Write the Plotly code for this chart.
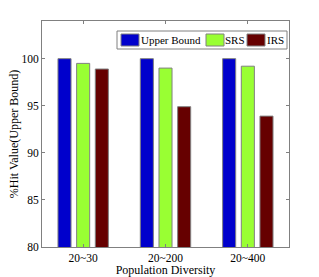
import plotly.graph_objects as go

categories = ["20~30", "20~200", "20~400"]
upper_bound = [100, 100, 100]
srs = [99.5, 99.0, 99.2]
irs = [98.9, 94.9, 93.9]
y_ticks = [80, 85, 90, 95, 100]
series_names = ["Upper Bound", "SRS", "IRS"]
series_colors = ["#0000CC", "#99FF33", "#660000"]

font = "Liberation Serif"
L, R, T, B, W, H = 42, 30, 21, 30, 319, 277
pw, ph = W - L - R, H - T - B

def px(x):
    return (x - L) / pw

def py(y):
    return (H - B - y) / ph

fig = go.Figure()
for name, vals, col in zip(series_names, [upper_bound, srs, irs], series_colors):
    fig.add_trace(go.Bar(x=categories, y=vals, name=name, marker_color=col,
                         marker_line_color="#808080", marker_line_width=1,
                         showlegend=False))

# custom legend box (MATLAB-style)
shapes = [dict(type="rect", xref="paper", yref="paper", x0=px(117), x1=px(287),
               y0=py(49), y1=py(31), line=dict(color="#808080", width=1),
               fillcolor="white", layer="above")]
annotations = []
sw_x = [121, 206, 247]
txt_x = [140, 224, 266]
for name, col, sx, tx in zip(series_names, series_colors, sw_x, txt_x):
    shapes.append(dict(type="rect", xref="paper", yref="paper", x0=px(sx), x1=px(sx + 18),
                       y0=py(46), y1=py(34), line=dict(color="#808080", width=1),
                       fillcolor=col, layer="above"))
    annotations.append(dict(xref="paper", yref="paper", x=px(tx), y=py(40),
                            xanchor="left", yanchor="middle", text=name, showarrow=False,
                            borderpad=0,
                            font=dict(family=font, size=11, color="black")))

fig.update_layout(
    width=W, height=H,
    margin=dict(l=L, r=R, t=T, b=B, autoexpand=False),
    paper_bgcolor="white", plot_bgcolor="white",
    barmode="group", bargap=0.32, bargroupgap=0.3,
    font=dict(family=font, size=11, color="black"),
    showlegend=False,
    shapes=shapes, annotations=annotations,
)
fig.update_xaxes(
    range=[-0.5, 2.5], showline=True, linecolor="#808080", linewidth=1, mirror="ticks",
    ticks="inside", ticklen=3, tickcolor="#808080", automargin=False,
    title=dict(text="Population Diversity", standoff=0, font=dict(family=font, size=12)),
    tickfont=dict(family=font, size=11.5),
)
fig.update_yaxes(
    range=[80, 104], tickvals=y_ticks, showline=True, linecolor="#808080", linewidth=1,
    mirror="ticks", ticks="inside", ticklen=3, tickcolor="#808080", showgrid=False,
    zeroline=False, automargin=False,
    title=dict(text="%Hit Value(Upper Bound)", standoff=0, font=dict(family=font, size=12)),
    tickfont=dict(family=font, size=11.5),
)
fig.write_html("out.html", config={"displayModeBar": False},
               post_script="document.body.style.margin='0';")
